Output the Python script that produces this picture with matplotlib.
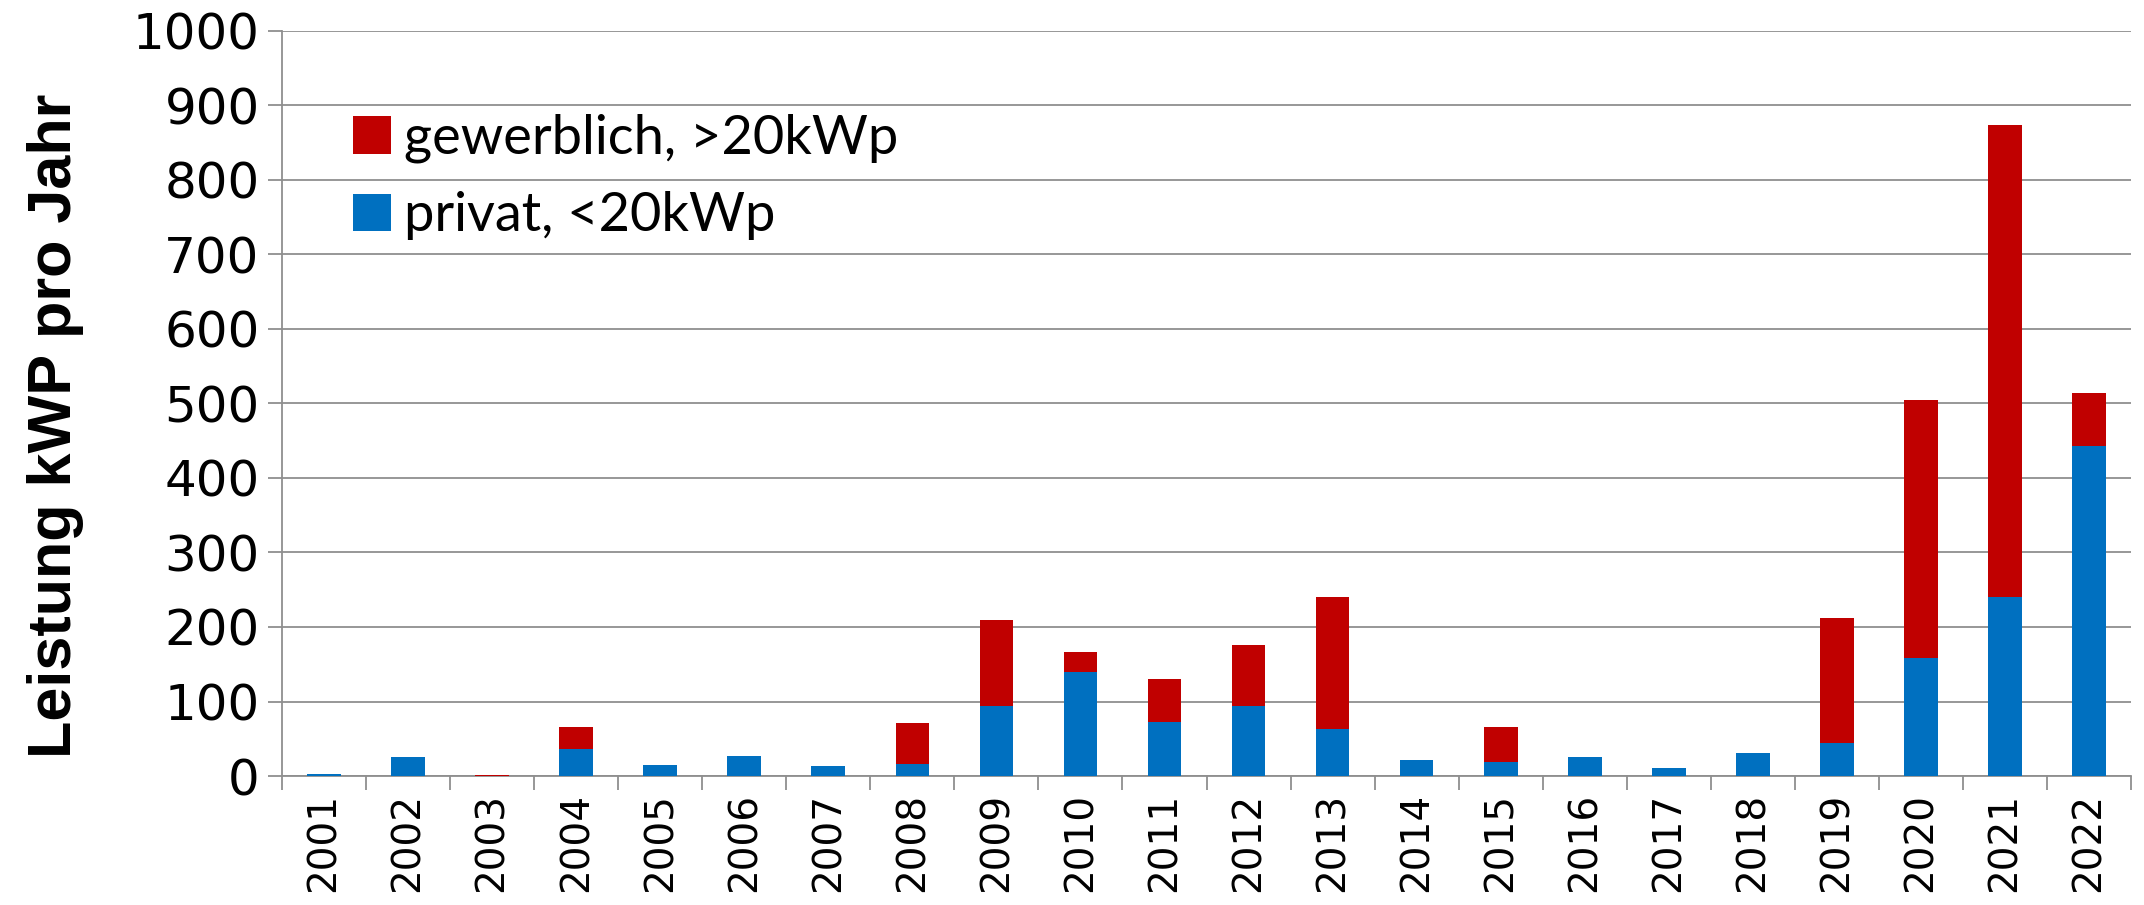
import matplotlib
matplotlib.use("Agg")
import matplotlib.pyplot as plt
import numpy as np

# =========================
# Daten
# =========================
years = ["2001", "2002", "2003", "2004", "2005", "2006", "2007", "2008", "2009", "2010", "2011",
         "2012", "2013", "2014", "2015", "2016", "2017", "2018", "2019", "2020", "2021", "2022"]
privat = [3, 26, 0, 36, 15, 27, 13, 16, 94, 139, 72,
          94, 63, 22, 19, 26, 11, 31, 45, 159, 240, 443]
gewerblich = [0, 0, 2, 30, 0, 0, 0, 55, 116, 28, 58,
              82, 177, 0, 47, 0, 0, 0, 167, 346, 633, 71]
yticks = list(range(0, 1001, 100))

RED = "#C00000"
BLUE = "#0070C0"
GRID = "#8f8f8f"

fig = plt.figure(figsize=(21.44, 9.05), dpi=100)
ax = fig.add_axes([0.1315, 0.1425, 0.994 - 0.1315, 0.966 - 0.1425])

x = np.arange(len(years))
b1 = ax.bar(x, privat, width=0.4, color=BLUE, zorder=3)
b2 = ax.bar(x, gewerblich, width=0.4, bottom=privat, color=RED, zorder=3)

ax.set_xlim(-0.5, len(years) - 0.5)
ax.set_ylim(0, 1000)
ax.set_yticks(yticks)
ax.set_yticklabels([str(v) for v in yticks], fontsize=36, family="DejaVu Sans")
ax.yaxis.grid(True, color=GRID, linewidth=1.3, zorder=0)
ax.set_axisbelow(True)

# Ticks zwischen den Kategorien, Beschriftung in der Mitte
ax.set_xticks(np.arange(-0.5, len(years), 1.0))
ax.set_xticklabels([])
ax.set_xticks(x, minor=True)
ax.set_xticklabels(years, minor=True, rotation=90, fontsize=28, family="DejaVu Sans")
ax.tick_params(axis="x", which="major", length=10, width=1.3, color=GRID)
ax.tick_params(axis="x", which="minor", length=0, pad=12)
ax.tick_params(axis="y", length=10, width=1.3, color=GRID, pad=6)

for s in ["top", "right"]:
    ax.spines[s].set_visible(False)
for s in ["left", "bottom"]:
    ax.spines[s].set_color(GRID)
    ax.spines[s].set_linewidth(1.3)

ax.set_ylabel("Leistung kWP pro Jahr", fontsize=44, fontweight="bold",
              family=["Liberation Sans", "DejaVu Sans"])
ax.yaxis.set_label_coords(-0.107, 0.47)

ax.legend([b2, b1], ["gewerblich, >20kWp", "privat, <20kWp"],
          loc="upper left", bbox_to_anchor=(0.012, 0.954), frameon=False,
          prop={"family": "Lato", "size": 39},
          handlelength=0.7, handleheight=0.7, handletextpad=0.25, labelspacing=0.52)

fig.savefig("out.png", dpi=100)
